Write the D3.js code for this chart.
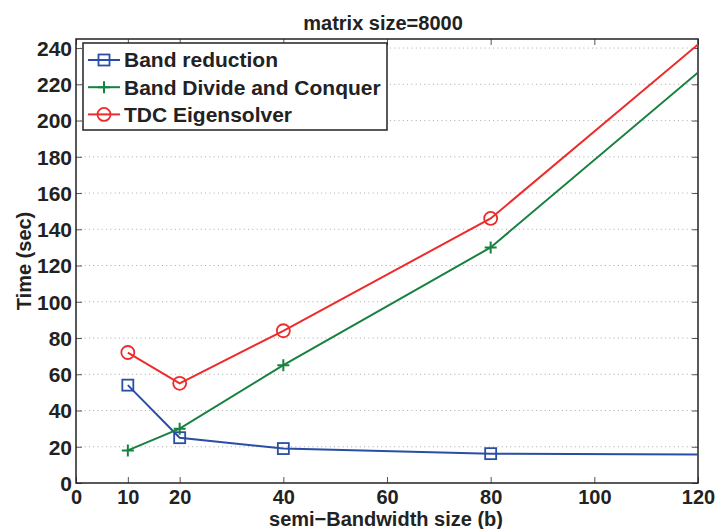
<!DOCTYPE html>
<html lang="en">
<head>
    <meta charset="UTF-8">
    <title>matrix size=8000</title>
    <style>
        body { margin: 0; background: #fff; }
        text { font-family: "Liberation Sans", Arial, sans-serif; font-weight: bold; fill: #222; }
    </style>
</head>
<body>
    <div id="wrapper"></div>
    <script src="https://d3js.org/d3.v7.min.js"></script>
    <script>
        // data (last point sits past the right edge and gets clipped)
        const bandwidth = [10, 20, 40, 80, 160];
        const bandReduction = [54, 25, 19, 16.2, 15.2];
        const bandDC = [18, 30, 65, 130, 323];
        const tdc = [72, 55, 84, 146, 338];
        const xTicks = [0, 10, 20, 40, 60, 80, 100, 120];
        const yTicks = [0, 20, 40, 60, 80, 100, 120, 140, 160, 180, 200, 220, 240];

        const width = 715, height = 529;
        const margin = { top: 39, right: 17, bottom: 46, left: 76 };
        const innerW = width - margin.left - margin.right;
        const innerH = height - margin.top - margin.bottom;

        const svg = d3.select('#wrapper').append('svg')
            .attr('width', width)
            .attr('height', height);

        const x = d3.scaleLinear().domain([0, 120]).range([0, innerW]);
        const y = d3.scaleLinear().domain([0, 245]).range([innerH, 0]);

        const g = svg.append('g').attr('transform', `translate(${margin.left},${margin.top})`);

        svg.append('defs').append('clipPath').attr('id', 'clip')
            .append('rect').attr('width', innerW).attr('height', innerH);

        // dotted horizontal grid
        g.append('g').selectAll('line').data(yTicks.filter(d => d > 0)).join('line')
            .attr('x1', 0).attr('x2', innerW)
            .attr('y1', d => y(d)).attr('y2', d => y(d))
            .attr('stroke', '#aaa').attr('stroke-width', 1)
            .attr('stroke-dasharray', '1,3.3');

        // axes: ticks point inward, matlab style
        const tl = 6;
        const bottom = g.append('g').attr('transform', `translate(0,${innerH})`)
            .call(d3.axisBottom(x).tickValues(xTicks).tickSizeInner(-tl).tickSizeOuter(0).tickPadding(7));
        const left = g.append('g')
            .call(d3.axisLeft(y).tickValues(yTicks).tickSizeInner(-tl).tickSizeOuter(0).tickPadding(4));
        g.append('g')
            .call(d3.axisTop(x).tickValues(xTicks).tickSizeInner(-tl).tickSizeOuter(0).tickFormat(''));
        g.append('g').attr('transform', `translate(${innerW},0)`)
            .call(d3.axisRight(y).tickValues(yTicks).tickSizeInner(-tl).tickSizeOuter(0).tickFormat(''));

        g.selectAll('.tick line').attr('stroke', '#555');
        g.selectAll('.domain').remove();
        bottom.selectAll('text').style('font-size', '20px').attr('fill', '#222').attr('font-family', null);
        left.selectAll('text').style('font-size', '21px').attr('fill', '#222').attr('font-family', null).attr('dy', '0.35em');

        g.append('rect')
            .attr('width', innerW).attr('height', innerH)
            .attr('fill', 'none').attr('stroke', '#222').attr('stroke-width', 1.5);

        const series = [
            { name: 'Band reduction', values: bandReduction, color: '#2a4ea6', marker: 'square' },
            { name: 'Band Divide and Conquer', values: bandDC, color: '#17813f', marker: 'plus' },
            { name: 'TDC Eigensolver', values: tdc, color: '#ee2b2b', marker: 'circle' }
        ];

        const line = d3.line().x((d, i) => x(bandwidth[i])).y(d => y(d));
        const plot = g.append('g').attr('clip-path', 'url(#clip)');

        function drawMarker(sel, type, color) {
            if (type === 'square') {
                sel.append('rect').attr('x', -5.5).attr('y', -5.5).attr('width', 11).attr('height', 11)
                    .attr('fill', 'none').attr('stroke', color).attr('stroke-width', 1.8);
            } else if (type === 'circle') {
                sel.append('circle').attr('r', 6.5)
                    .attr('fill', 'none').attr('stroke', color).attr('stroke-width', 1.8);
            } else {
                sel.append('path').attr('d', 'M-6,0H6M0,-6V6')
                    .attr('stroke', color).attr('stroke-width', 2);
            }
        }

        series.forEach(s => {
            plot.append('path').datum(s.values)
                .attr('d', line)
                .attr('fill', 'none').attr('stroke', s.color).attr('stroke-width', 2);
            s.values.forEach((v, i) => {
                const m = plot.append('g').attr('transform', `translate(${x(bandwidth[i])},${y(v)})`);
                drawMarker(m, s.marker, s.color);
            });
        });

        // legend
        const lg = g.append('g').attr('transform', 'translate(7,4)');
        lg.append('rect').attr('width', 304).attr('height', 87)
            .attr('fill', '#fff').attr('stroke', '#222').attr('stroke-width', 1.5);
        series.forEach((s, i) => {
            const row = lg.append('g').attr('transform', `translate(0,${17 + i * 27.2})`);
            row.append('line').attr('x1', 5).attr('x2', 37).attr('stroke', s.color).attr('stroke-width', 2);
            drawMarker(row.append('g').attr('transform', 'translate(21,0)'), s.marker, s.color);
            row.append('text').attr('x', 41).attr('dy', '0.35em').style('font-size', '21px').text(s.name);
        });

        // title and labels
        svg.append('text')
            .attr('x', margin.left + innerW / 2 - 4).attr('y', 30)
            .attr('text-anchor', 'middle').style('font-size', '20px')
            .text('matrix size=8000');
        svg.append('text')
            .attr('x', margin.left + innerW / 2 - 1).attr('y', 526)
            .attr('text-anchor', 'middle').style('font-size', '20px')
            .text('semi\u2212Bandwidth size (b)');
        svg.append('text')
            .attr('transform', `translate(31,${margin.top + innerH / 2}) rotate(-90)`)
            .attr('text-anchor', 'middle').style('font-size', '20px')
            .text('Time (sec)');
    </script>
</body>
</html>
